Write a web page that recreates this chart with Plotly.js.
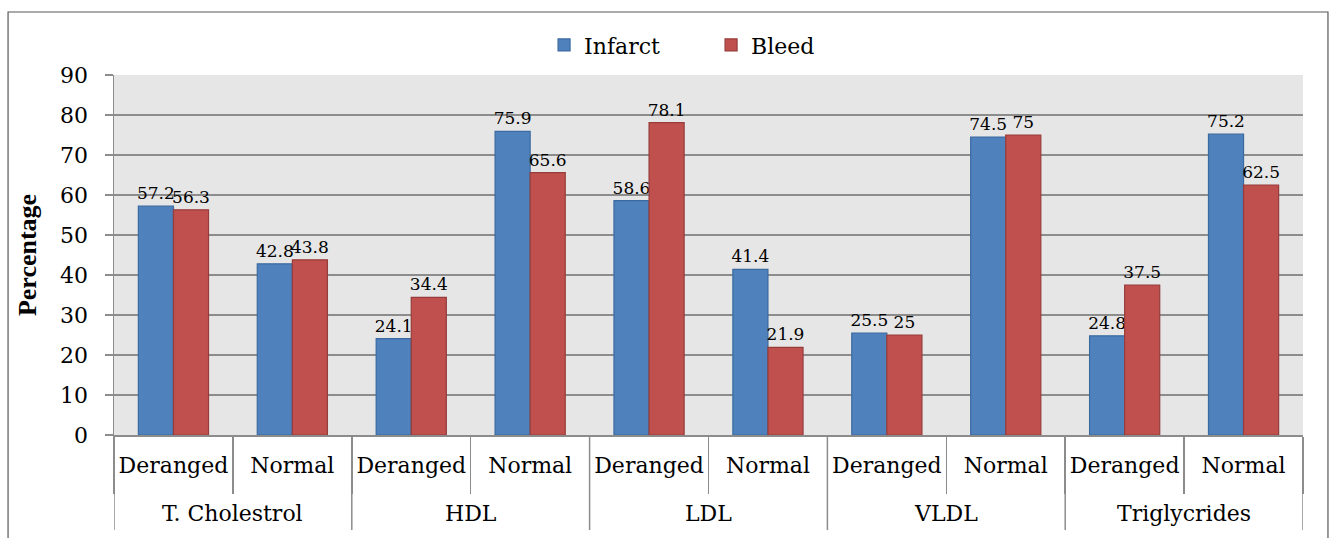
<!DOCTYPE html>
<html>
<head>
<meta charset="utf-8">
<script src="https://cdn.plot.ly/plotly-3.0.1.min.js"></script>
<style>html,body{margin:0;padding:0;background:#fff;}#chart{width:1331px;height:538px;}</style>
</head>
<body>
<div id="chart"></div>
<script>
var groups = ["T. Cholestrol","T. Cholestrol","HDL","HDL","LDL","LDL","VLDL","VLDL","Triglycrides","Triglycrides"];
var subs = ["Deranged","Normal","Deranged","Normal","Deranged","Normal","Deranged","Normal","Deranged","Normal"];
var infarct = [57.2, 42.8, 24.1, 75.9, 58.6, 41.4, 25.5, 74.5, 24.8, 75.2];
var bleed = [56.3, 43.8, 34.4, 65.6, 78.1, 21.9, 25, 75, 37.5, 62.5];
var yTicks = [0,10,20,30,40,50,60,70,80,90];

var font = "DejaVu Serif";
var boldFont = "Liberation Serif";
var GRID = "#8C8C8C";

var idx = subs.map(function (_, i) { return i; });
var bounds = [-0.5].concat(idx.map(function (i) { return i + 0.5; }));

var groupNames = [], groupStart = [], groupEnd = [];
groups.forEach(function (g, i) {
  if (i === 0 || g !== groups[i - 1]) { groupNames.push(g); groupStart.push(i); groupEnd.push(i); }
  else { groupEnd[groupEnd.length - 1] = i; }
});
var groupDividers = [groupStart[0] - 0.5].concat(groupEnd.map(function (e) { return e + 0.5; }));

function series(name, vals, color, line) {
  return {
    type: "bar",
    name: name,
    x: idx,
    y: vals,
    text: vals.map(String),
    textposition: "outside",
    constraintext: "none",
    cliponaxis: false,
    textfont: {family: font, size: 17, color: "#000"},
    marker: {color: color, line: {color: line, width: 1.2}},
    hoverinfo: "skip"
  };
}

var data = [
  series("Infarct", infarct, "#4F81BD", "#3B6AA0"),
  series("Bleed", bleed, "#C0504D", "#963C3A")
];

var shapes = [
  {type: "rect", xref: "paper", yref: "paper",
   x0: -0.0891, x1: 1.021, y0: -0.35, y1: 1.175,
   line: {color: "#595959", width: 1.2}, fillcolor: "rgba(0,0,0,0)", layer: "below"}
];
groupDividers.forEach(function (xv) {
  shapes.push({type: "line", xref: "x", yref: "paper", x0: xv, x1: xv, y0: 0, y1: -0.264,
               line: {color: GRID, width: 1.5}});
});

var annotations = groupNames.map(function (g, k) {
  return {text: g, xref: "x", yref: "paper", x: (groupStart[k] + groupEnd[k]) / 2, y: -0.219,
          xanchor: "center", yanchor: "middle", showarrow: false,
          font: {family: font, size: 22, color: "#000"}};
});

var layout = {
  width: 1331,
  height: 538,
  margin: {l: 114, r: 28, t: 75, b: 103},
  paper_bgcolor: "#ffffff",
  plot_bgcolor: "#E6E6E6",
  font: {family: font, color: "#000"},
  barmode: "group",
  bargap: 0.41,
  bargroupgap: 0,
  showlegend: true,
  legend: {
    orientation: "h",
    x: 0.3617, xanchor: "left",
    y: 1.083, yanchor: "middle",
    font: {family: font, size: 22, color: "#000"},
    entrywidth: 122,
    bgcolor: "rgba(0,0,0,0)"
  },
  xaxis: {
    type: "linear",
    range: [bounds[0], bounds[bounds.length - 1]],
    tickmode: "array",
    tickvals: idx,
    ticktext: subs,
    ticks: "",
    showline: true,
    linecolor: GRID,
    linewidth: 1.5,
    showgrid: false,
    zeroline: false,
    ticklabelstandoff: 10,
    minor: {tickmode: "array", tickvals: bounds, ticks: "outside", ticklen: 57, tickcolor: GRID, tickwidth: 1.5, showgrid: false},
    tickfont: {family: font, size: 22, color: "#000"},
    automargin: false
  },
  yaxis: {
    range: [0, 90],
    tickmode: "array",
    tickvals: yTicks,
    ticktext: yTicks.map(String),
    showline: true,
    linecolor: GRID,
    linewidth: 1.5,
    ticks: "outside",
    ticklen: 8,
    tickcolor: GRID,
    tickwidth: 1.5,
    ticklabelstandoff: 12,
    showgrid: true,
    gridcolor: GRID,
    gridwidth: 1.3,
    zeroline: false,
    tickfont: {family: font, size: 22, color: "#000"},
    title: {text: "<b>Percentage</b>", font: {family: boldFont, size: 26, color: "#000"}, standoff: 16},
    automargin: false
  },
  shapes: shapes,
  annotations: annotations
};

Plotly.newPlot("chart", data, layout, {displayModeBar: false, staticPlot: true});
</script>
</body>
</html>
